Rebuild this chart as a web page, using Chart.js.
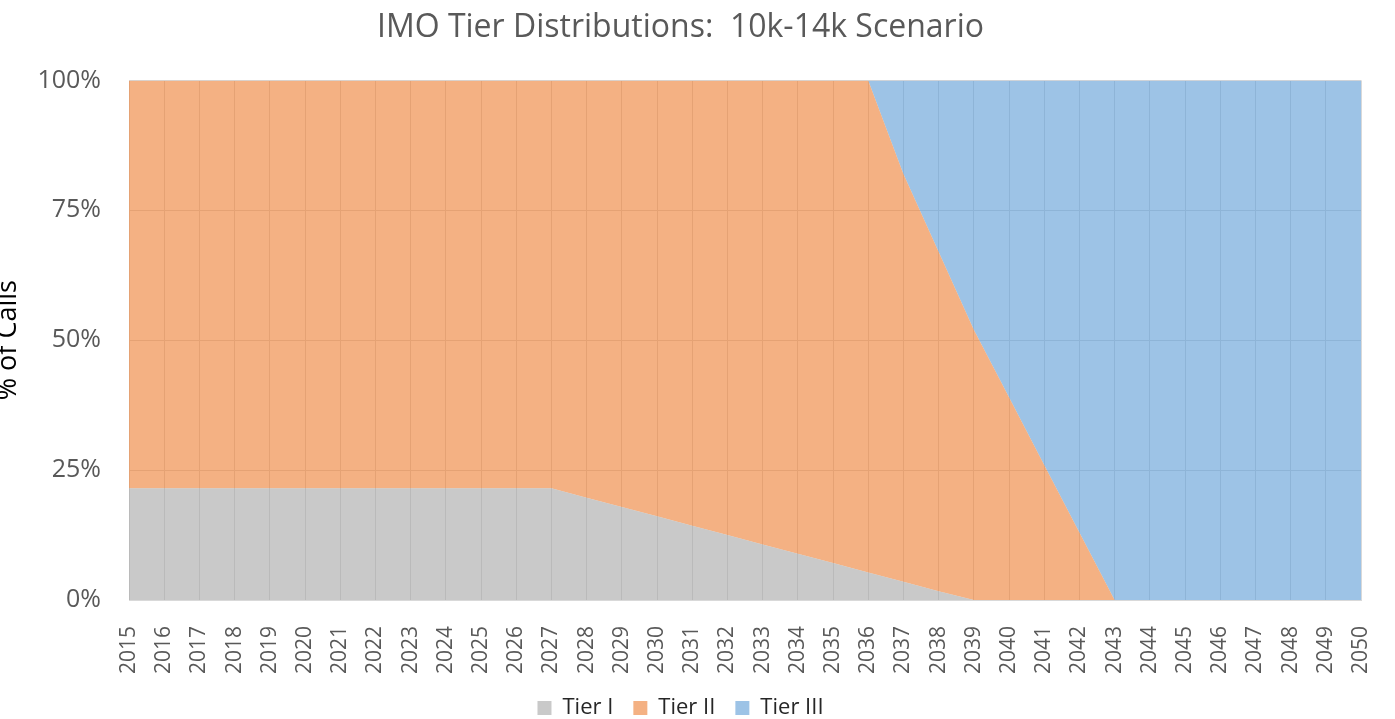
<!DOCTYPE html>
<html lang="en">

<head>
    <meta charset="UTF-8">
    <title>IMO Tier Distributions</title>
    <script src="https://cdn.jsdelivr.net/npm/chart.js"></script>
    <style>
        html, body { margin: 0; padding: 0; background: #fff; }
        .chart-container { width: 1395px; height: 719px; }
    </style>
</head>

<body>
    <div class="chart-container">
        <canvas id="tierChart"></canvas>
    </div>

    <script>
        // years on the x axis
        var years = ['2015', '2016', '2017', '2018', '2019', '2020', '2021', '2022', '2023', '2024', '2025', '2026',
            '2027', '2028', '2029', '2030', '2031', '2032', '2033', '2034', '2035', '2036', '2037', '2038',
            '2039', '2040', '2041', '2042', '2043', '2044', '2045', '2046', '2047', '2048', '2049', '2050'];

        // share of calls per tier (%)
        var tierI = [21.5, 21.5, 21.5, 21.5, 21.5, 21.5, 21.5, 21.5, 21.5, 21.5, 21.5, 21.5,
            21.5, 19.7, 17.9, 16.1, 14.3, 12.5, 10.7, 8.9, 7.1, 5.3, 3.5, 1.7,
            0, 0, 0, 0, 0, 0, 0, 0, 0, 0, 0, 0];
        var tierII = [78.5, 78.5, 78.5, 78.5, 78.5, 78.5, 78.5, 78.5, 78.5, 78.5, 78.5, 78.5,
            78.5, 80.3, 82.1, 83.9, 85.7, 87.5, 89.3, 91.1, 92.9, 94.7, 78.5, 65.3,
            52, 39, 26, 13, 0, 0, 0, 0, 0, 0, 0, 0];
        var tierIII = [0, 0, 0, 0, 0, 0, 0, 0, 0, 0, 0, 0,
            0, 0, 0, 0, 0, 0, 0, 0, 0, 0, 18, 33,
            48, 61, 74, 87, 100, 100, 100, 100, 100, 100, 100, 100];

        var yTicks = [0, 25, 50, 75, 100];

        Chart.defaults.font.family = "'Open Sans', 'Noto Sans', sans-serif";

        var ctx = document.getElementById('tierChart').getContext('2d');
        var chart = new Chart(ctx, {
            type: 'line',
            data: {
                labels: years,
                datasets: [{
                    label: 'Tier I',
                    data: tierI,
                    backgroundColor: 'rgba(165, 165, 165, 0.6)',
                    borderWidth: 0,
                    pointRadius: 0,
                    fill: 'origin'
                }, {
                    label: 'Tier II',
                    data: tierII,
                    backgroundColor: 'rgba(237, 125, 49, 0.6)',
                    borderWidth: 0,
                    pointRadius: 0,
                    fill: '-1'
                }, {
                    label: 'Tier III',
                    data: tierIII,
                    backgroundColor: 'rgba(91, 155, 213, 0.6)',
                    borderWidth: 0,
                    pointRadius: 0,
                    fill: '-1'
                }]
            },
            options: {
                responsive: true,
                maintainAspectRatio: false,
                animation: false,
                events: [],
                layout: {
                    // legend is a bit tall, let it hang past the bottom edge
                    padding: { left: 0, right: 34, top: 0, bottom: -10 }
                },
                plugins: {
                    title: {
                        display: true,
                        text: 'IMO Tier Distributions:  10k-14k Scenario',
                        color: '#595959',
                        font: { size: 32, weight: 'normal' },
                        padding: { top: 9, bottom: 33 }
                    },
                    legend: {
                        position: 'bottom',
                        labels: {
                            boxWidth: 14,
                            boxHeight: 14,
                            padding: 20,
                            color: '#262626',
                            font: { size: 22 }
                        }
                    },
                    tooltip: { enabled: false }
                },
                scales: {
                    x: {
                        offset: false,
                        grid: { color: '#d9d9d9', offset: false, drawTicks: false },
                        border: { color: '#d9d9d9' },
                        ticks: {
                            autoSkip: false,
                            minRotation: 90,
                            maxRotation: 90,
                            padding: 26,
                            color: '#595959',
                            font: { size: 21 }
                        },
                        afterFit: function(scale) {
                            scale.height = 77;
                            // keep the plot edge fixed, rotated labels need no side room
                            scale.paddingLeft = 0;
                            scale.paddingRight = 0;
                        }
                    },
                    y: {
                        stacked: true,
                        min: 0,
                        max: 100,
                        afterBuildTicks: function(scale) {
                            scale.ticks = yTicks.map(function(v) { return { value: v }; });
                        },
                        grid: { color: '#d9d9d9', drawTicks: false },
                        border: { display: false },
                        ticks: {
                            padding: 28,
                            color: '#595959',
                            font: { size: 25 },
                            callback: function(v) { return v + '%'; }
                        },
                        title: {
                            display: true,
                            text: '% of Calls',
                            color: '#000',
                            padding: 0,
                            font: { size: 27, lineHeight: 0.6 }
                        },
                        afterFit: function(scale) { scale.width = 129; }
                    }
                }
            }
        });
    </script>
</body>

</html>
